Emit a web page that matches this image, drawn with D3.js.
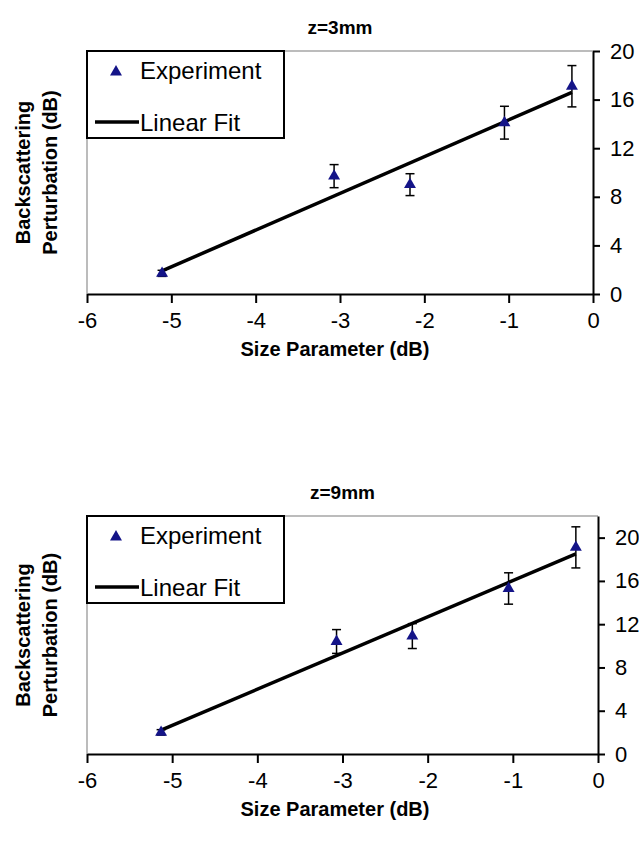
<!DOCTYPE html>
<html>
<head>
<meta charset="utf-8">
<script src="https://cdn.jsdelivr.net/npm/d3@7"></script>
<style>
  body { margin: 0; background: #fff; }
  svg { display: block; font-family: "Liberation Sans", Arial, sans-serif; }
</style>
</head>
<body>
<div id="chart"></div>
<script>
// data
const titles = ["z=3mm", "z=9mm"];
const xTicks = [-6, -5, -4, -3, -2, -1, 0];
const yTicks = [0, 4, 8, 12, 16, 20];

const x3 = [-5.11, -3.07, -2.17, -1.05, -0.25];
const y3 = [1.7, 9.7, 9.0, 14.1, 17.1];
const err3 = [0.25, 0.95, 0.9, 1.35, 1.7];
const fitX3 = [-5.11, -0.25];
const fitY3 = [1.9, 16.6];

const x9 = [-5.13, -3.07, -2.18, -1.05, -0.26];
const y9 = [2.0, 10.4, 10.9, 15.3, 19.1];
const err9 = [0.25, 1.1, 1.15, 1.45, 1.9];
const fitX9 = [-5.13, -0.26];
const fitY9 = [2.2, 18.5];

const yMax = [20, 22];

const svg = d3.select("#chart")
    .append("svg")
    .attr("width", 639)
    .attr("height", 844);

const panels = [
    { title: titles[0], xs: x3, ys: y3, errs: err3, fx: fitX3, fy: fitY3, ymax: yMax[0], L: 87, R: 593, T: 51, B: 294 },
    { title: titles[1], xs: x9, ys: y9, errs: err9, fx: fitX9, fy: fitY9, ymax: yMax[1], L: 87, R: 598, T: 516, B: 754 }
];

panels.forEach(drawPanel);

function drawPanel(p) {
    const x = d3.scaleLinear().domain([-6, 0]).range([p.L, p.R]);
    const y = d3.scaleLinear().domain([0, p.ymax]).range([p.B, p.T]);

    // plot area frame (top and left are light grey)
    svg.append("path")
        .attr("d", `M${p.L},${p.B}V${p.T}H${p.R}`)
        .attr("fill", "none")
        .attr("stroke", "#a6a6a6")
        .attr("stroke-width", 1.5);

    // x axis
    const gx = svg.append("g")
        .attr("transform", `translate(0,${p.B})`)
        .call(d3.axisBottom(x).tickValues(xTicks).tickSize(9).tickPadding(9).tickSizeOuter(0)
            .tickFormat(d3.format("d")));
    gx.select(".domain").attr("stroke", "#000").attr("stroke-width", 2);
    gx.selectAll(".tick line").attr("stroke", "#000").attr("stroke-width", 2);
    gx.selectAll(".tick text")
        .attr("font-size", 22)
        .attr("font-family", "Liberation Sans, Arial, sans-serif")
        .attr("fill", "#000")
        .text(d => d < 0 ? "-" + Math.abs(d) : d);

    // y axis on the right
    const gy = svg.append("g")
        .attr("transform", `translate(${p.R},0)`)
        .call(d3.axisRight(y).tickValues(yTicks).tickSize(7).tickPadding(10).tickSizeOuter(0));
    gy.select(".domain").attr("stroke", "#000").attr("stroke-width", 2);
    gy.selectAll(".tick line").attr("stroke", "#000").attr("stroke-width", 2);
    gy.selectAll(".tick text")
        .attr("font-size", 22)
        .attr("font-family", "Liberation Sans, Arial, sans-serif")
        .attr("fill", "#000");

    // linear fit
    svg.append("path")
        .datum(d3.zip(p.fx, p.fy))
        .attr("d", d3.line().x(d => x(d[0])).y(d => y(d[1])))
        .attr("fill", "none")
        .attr("stroke", "#000")
        .attr("stroke-width", 3.5);

    const pts = p.xs.map((v, i) => ({ x: v, y: p.ys[i], e: p.errs[i] }));

    // error bars
    const eb = svg.append("g").attr("stroke", "#000").attr("stroke-width", 1.5);
    pts.forEach(d => {
        eb.append("line")
            .attr("x1", x(d.x)).attr("x2", x(d.x))
            .attr("y1", y(d.y - d.e)).attr("y2", y(d.y + d.e));
        [d.y - d.e, d.y + d.e].forEach(v => {
            eb.append("line")
                .attr("x1", x(d.x) - 4.5).attr("x2", x(d.x) + 4.5)
                .attr("y1", y(v)).attr("y2", y(v));
        });
    });

    // markers
    const tri = d3.symbol().type(d3.symbolTriangle).size(62);
    svg.append("g").selectAll("path")
        .data(pts)
        .join("path")
        .attr("d", tri)
        .attr("transform", d => `translate(${x(d.x)},${y(d.y)})`)
        .attr("fill", "#141488");

    // legend
    const lg = svg.append("g").attr("transform", `translate(${p.L},${p.T})`);
    lg.append("rect")
        .attr("width", 197).attr("height", 87)
        .attr("fill", "#fff")
        .attr("stroke", "#000")
        .attr("stroke-width", 2);
    lg.append("path")
        .attr("d", d3.symbol().type(d3.symbolTriangle).size(62))
        .attr("transform", "translate(29,21)")
        .attr("fill", "#141488");
    lg.append("text")
        .attr("x", 53).attr("y", 28)
        .attr("font-size", 24)
        .text("Experiment");
    lg.append("line")
        .attr("x1", 8).attr("x2", 52)
        .attr("y1", 71).attr("y2", 71)
        .attr("stroke", "#000")
        .attr("stroke-width", 3.5);
    lg.append("text")
        .attr("x", 53).attr("y", 80)
        .attr("font-size", 24)
        .text("Linear Fit");

    // title
    svg.append("text")
        .attr("x", (p.L + p.R) / 2)
        .attr("y", p.T - 17)
        .attr("text-anchor", "middle")
        .attr("font-size", 19)
        .attr("font-weight", "bold")
        .text(p.title);

    // axis titles
    svg.append("text")
        .attr("x", 335)
        .attr("y", p.B + 62)
        .attr("text-anchor", "middle")
        .attr("font-size", 20)
        .attr("font-weight", "bold")
        .text("Size Parameter (dB)");

    const cy = (p.T + p.B) / 2;
    ["Backscattering", "Perturbation (dB)"].forEach((t, i) => {
        svg.append("text")
            .attr("transform", `translate(${30 + i * 27},${cy}) rotate(-90)`)
            .attr("text-anchor", "middle")
            .attr("font-size", 20)
            .attr("font-weight", "bold")
            .text(t);
    });
}
</script>
</body>
</html>
